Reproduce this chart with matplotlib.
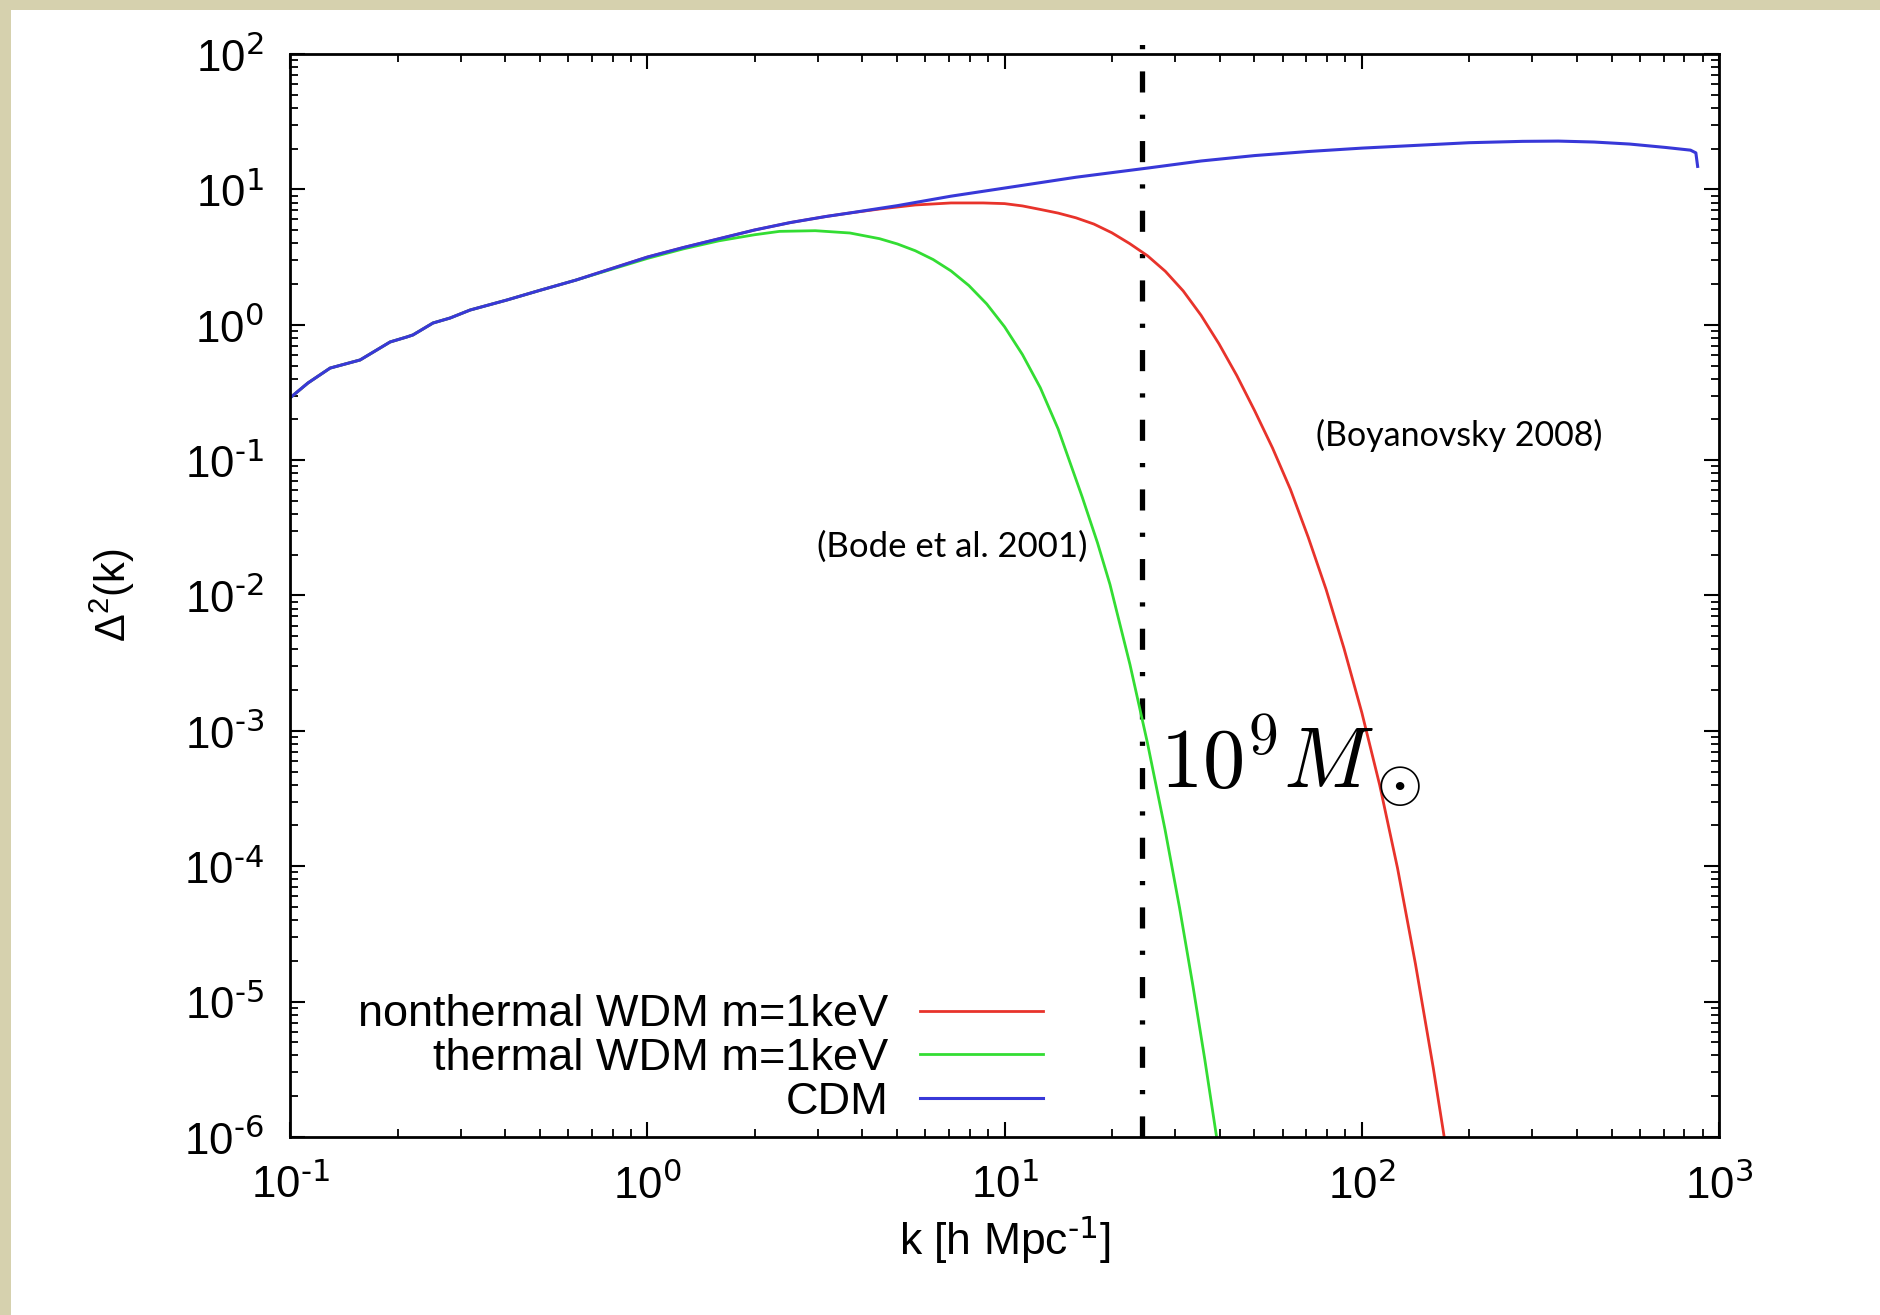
import numpy as np
import matplotlib
matplotlib.use("Agg")
import matplotlib.pyplot as plt
from matplotlib.patches import Rectangle

# values (log10 k, log10 Delta^2)
cdm_logk = [-1.0, -0.95, -0.888, -0.86, -0.804, -0.72, -0.673, -0.656, -0.60, -0.552,
            -0.496, -0.393, -0.3, -0.2, -0.1, 0.0, 0.1, 0.2, 0.3, 0.4, 0.5, 0.567,
            0.7, 0.85, 1.0, 1.2, 1.407, 1.55, 1.7, 1.85, 2.0, 2.15, 2.3, 2.45, 2.55,
            2.65, 2.75, 2.85, 2.92, 2.935, 2.94]
cdm_logd = [-0.54, -0.43, -0.32, -0.30, -0.26, -0.127, -0.09, -0.075, 0.013, 0.05,
            0.109, 0.183, 0.255, 0.33, 0.415, 0.50, 0.57, 0.635, 0.70, 0.755, 0.80, 0.826,
            0.88, 0.95, 1.01, 1.09, 1.16, 1.21, 1.25, 1.28, 1.305, 1.325, 1.345, 1.355, 1.357,
            1.35, 1.335, 1.31, 1.29, 1.27, 1.17]

nth_logk = [-1.0, -0.95, -0.888, -0.86, -0.804, -0.72, -0.673, -0.656, -0.60, -0.552,
            -0.496, -0.393, -0.3, -0.2, -0.1, 0.0, 0.1, 0.2, 0.3, 0.4, 0.5, 0.567,
            0.65, 0.75, 0.85, 0.94, 1.0, 1.05, 1.1, 1.15, 1.2, 1.25, 1.3, 1.35, 1.4,
            1.45, 1.5, 1.55, 1.6, 1.65, 1.7, 1.75, 1.8, 1.85, 1.9, 1.95, 2.0, 2.05,
            2.1, 2.15, 2.2, 2.227, 2.24]
nth_logd = [-0.54, -0.43, -0.32, -0.30, -0.26, -0.127, -0.09, -0.075, 0.013, 0.05,
            0.109, 0.183, 0.255, 0.33, 0.415, 0.50, 0.57, 0.635, 0.70, 0.755, 0.80, 0.826,
            0.855, 0.885, 0.90, 0.90, 0.895, 0.878, 0.852, 0.825, 0.79, 0.744, 0.68, 0.60,
            0.51, 0.395, 0.25, 0.07, -0.14, -0.375, -0.635, -0.91, -1.215, -1.57, -1.955,
            -2.39, -2.865, -3.4, -4.015, -4.72, -5.49, -5.94, -6.16]

th_logk = [-1.0, -0.95, -0.888, -0.86, -0.804, -0.72, -0.673, -0.656, -0.60, -0.552,
           -0.496, -0.393, -0.3, -0.2, -0.1, 0.0, 0.1, 0.2, 0.3, 0.37, 0.47, 0.567,
           0.65, 0.7, 0.75, 0.8, 0.85, 0.9, 0.95, 1.0, 1.05, 1.1, 1.15, 1.217, 1.26,
           1.295, 1.351, 1.40, 1.449, 1.49, 1.527, 1.56, 1.594, 1.61]
th_logd = [-0.54, -0.43, -0.32, -0.30, -0.26, -0.127, -0.09, -0.075, 0.013, 0.05,
           0.109, 0.183, 0.255, 0.33, 0.41, 0.49, 0.56, 0.62, 0.665, 0.69, 0.695, 0.678,
           0.636, 0.597, 0.547, 0.482, 0.398, 0.29, 0.154, -0.015, -0.22, -0.465, -0.77,
           -1.27, -1.61, -1.918, -2.51, -3.09, -3.727, -4.31, -4.88, -5.42, -6.01, -6.29]

k_halo = 24.3  # k of the 10^9 Msun line

labels = ["nonthermal WDM m=1keV", "thermal WDM m=1keV", "CDM"]
colors = ["#e8332b", "#33dd33", "#3838d8"]

x_exp = [-1, 0, 1, 2, 3]
y_exp = [-6, -5, -4, -3, -2, -1, 0, 1, 2]


def pow_label(n):
    # gnuplot style 10^n with a plain hyphen
    return r"$\mathregular{10^{\text{%d}}}$" % n


plt.rcParams["font.family"] = ["Liberation Sans", "DejaVu Sans"]

fig = plt.figure(figsize=(18.8, 13.15), dpi=100)
fig.patch.set_facecolor("#d6d1ae")
fig.add_artist(Rectangle((11 / 1880, 0), 1, 1 - 10 / 1315, transform=fig.transFigure,
                         facecolor="white", edgecolor="none", zorder=-5))

ax = fig.add_axes([0.1543, 0.1354, 0.7601, 0.8235])
ax.set_xscale("log")
ax.set_yscale("log")
ax.set_xlim(0.1, 1000)
ax.set_ylim(1e-6, 100)

ax.plot(10 ** np.array(nth_logk), 10 ** np.array(nth_logd), color=colors[0], lw=2.0, label=labels[0])
ax.plot(10 ** np.array(th_logk), 10 ** np.array(th_logd), color=colors[1], lw=2.0, label=labels[1])
ax.plot(10 ** np.array(cdm_logk), 10 ** np.array(cdm_logd), color=colors[2], lw=2.2, label=labels[2])

ax.axvline(k_halo, ymin=0, ymax=1.011, color="black", lw=3.8, clip_on=False,
           linestyle=(0, (4, 4.2, 0.8, 4.2)), zorder=1)

ax.text(27.3, 10 ** -3.42, r"$10^9M_\odot$", fontsize=61, math_fontfamily="cm",
        ha="left", va="baseline")
ax.text(2.99, 0.0229, "(Bode et al. 2001)", family="Lato", fontsize=25,
        ha="left", va="center", color="black")
ax.text(74.5, 0.1535, "(Boyanovsky 2008)", family="Lato", fontsize=24.5,
        ha="left", va="center", color="black")

# gnuplot-like frame and ticks
for s in ax.spines.values():
    s.set_linewidth(2.0)
ax.tick_params(which="both", direction="in", top=True, right=True)
ax.tick_params(which="major", length=10.8, width=1.5, labelsize=31.5, pad=19)
ax.tick_params(which="minor", length=5.8, width=1.3)
ax.set_xticks([10.0 ** n for n in x_exp])
ax.set_xticklabels([pow_label(n) for n in x_exp])
ax.set_yticks([10.0 ** n for n in y_exp])
ax.set_yticklabels([pow_label(n) for n in y_exp])

ax.set_xlabel(r"k [h Mpc$\mathregular{^{\text{-1}}}$]", fontsize=32, labelpad=4)
ax.set_ylabel(r"$\mathregular{\Delta^2}$(k)", fontsize=30, labelpad=34)

ax.legend(loc="lower right", bbox_to_anchor=(0.527, 0.013), frameon=False,
          markerfirst=False, fontsize=32.5, handlelength=2.73, handletextpad=0.7,
          labelspacing=0.06, borderpad=0, borderaxespad=0)

fig.savefig("out.png", dpi=100, facecolor=fig.get_facecolor())
